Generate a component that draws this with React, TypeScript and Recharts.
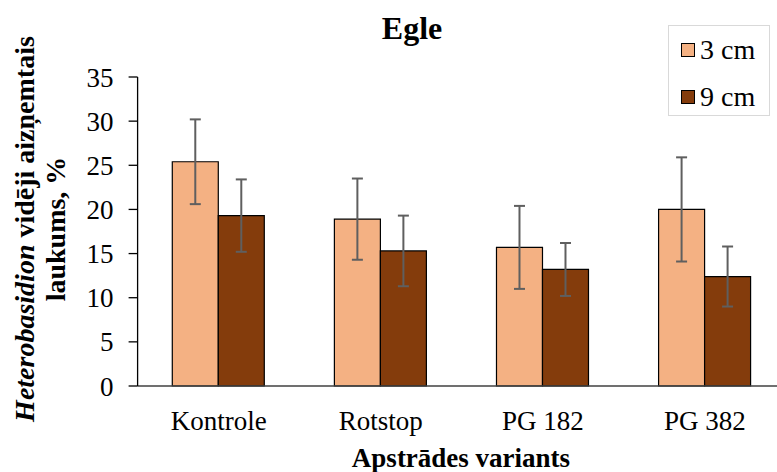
import { BarChart, Bar, XAxis, YAxis, ErrorBar } from "recharts";

const categories = ["Kontrole", "Rotstop", "PG 182", "PG 382"];
const cm3 = [25.4, 18.9, 15.7, 20.0];
const cm3Err = [4.8, 4.6, 4.7, 5.9];
const cm9 = [19.3, 15.3, 13.2, 12.4];
const cm9Err = [4.1, 4.0, 3.0, 3.4];
const yTicks = [0, 5, 10, 15, 20, 25, 30, 35];

const dati = categories.map((name, i) => ({
  name,
  cm3: cm3[i],
  cm3Err: cm3Err[i],
  cm9: cm9[i],
  cm9Err: cm9Err[i],
}));

const FONT = "Liberation Serif, Times New Roman, serif";
const GAISA = "#F4B183";
const TUMSA = "#843C0C";

function YNosaukums() {
  return (
    <g fontFamily={FONT} fontWeight="bold" fontSize={28} fill="#000">
      <text x={24} y={229} transform="rotate(-90 24 229)" textAnchor="middle" dominantBaseline="central">
        <tspan fontStyle="italic">Heterobasidion</tspan> vidēji aizņemtais
      </text>
      <text x={55} y={229} transform="rotate(-90 55 229)" textAnchor="middle" dominantBaseline="central">
        laukums, %
      </text>
    </g>
  );
}

function XNosaukums() {
  return (
    <text x={461} y={467} textAnchor="middle" fontFamily={FONT} fontWeight="bold" fontSize={27} fill="#000">
      Apstrādes variants
    </text>
  );
}

export default function App() {
  return (
    <div
      style={{
        position: "fixed",
        left: 0,
        top: 0,
        width: 777,
        height: 472,
        overflow: "hidden",
        background: "#fff",
        fontFamily: FONT,
      }}
    >
      <BarChart
        width={790}
        height={472}
        data={dati}
        margin={{ top: 77, right: 4, bottom: 26, left: 0 }}
        barCategoryGap="21.4%"
        barGap={0}
        style={{ fontFamily: FONT }}
      >
        <XAxis
          dataKey="name"
          height={60}
          tickLine={false}
          tickSize={0}
          tickMargin={25}
          axisLine={{ stroke: "#404040", strokeWidth: 1.3 }}
          tick={{ fill: "#000", fontSize: 27, fontFamily: FONT }}
          label={{ content: () => <XNosaukums /> }}
        />
        <YAxis
          width={137.6}
          domain={[0, 35]}
          ticks={yTicks}
          interval={0}
          tickSize={9}
          tickMargin={15}
          axisLine={{ stroke: "#000", strokeWidth: 1.3 }}
          tickLine={{ stroke: "#000", strokeWidth: 1.3 }}
          tick={{ fill: "#000", fontSize: 27, fontFamily: FONT }}
          label={{ content: () => <YNosaukums /> }}
        />
        <Bar dataKey="cm3" fill={GAISA} stroke="#000" strokeWidth={1.2} isAnimationActive={false}>
          <ErrorBar dataKey="cm3Err" width={5.5} stroke="#5f5f5f" strokeWidth={2} isAnimationActive={false} />
        </Bar>
        <Bar dataKey="cm9" fill={TUMSA} stroke="#000" strokeWidth={1.2} isAnimationActive={false}>
          <ErrorBar dataKey="cm9Err" width={5.5} stroke="#5f5f5f" strokeWidth={2} isAnimationActive={false} />
        </Bar>
      </BarChart>

      <div
        style={{
          position: "absolute",
          left: 312,
          width: 200,
          top: 12,
          textAlign: "center",
          fontWeight: "bold",
          fontSize: 32,
          lineHeight: 1,
        }}
      >
        Egle
      </div>

      <div
        style={{
          position: "absolute",
          left: 668,
          top: 25,
          width: 100,
          height: 89,
          border: "1px solid #d9d9d9",
          fontSize: 28,
        }}
      >
        {[
          { nosaukums: "3 cm", krasa: GAISA, y: 24 },
          { nosaukums: "9 cm", krasa: TUMSA, y: 71 },
        ].map((v) => (
          <div
            key={v.nosaukums}
            style={{ position: "absolute", left: 12, top: v.y - 14, height: 28, display: "flex", alignItems: "center", lineHeight: 1 }}
          >
            <span
              style={{
                display: "inline-block",
                width: 12,
                height: 12,
                background: v.krasa,
                border: "1px solid #000",
                marginRight: 5,
              }}
            />
            <span>{v.nosaukums}</span>
          </div>
        ))}
      </div>
    </div>
  );
}
